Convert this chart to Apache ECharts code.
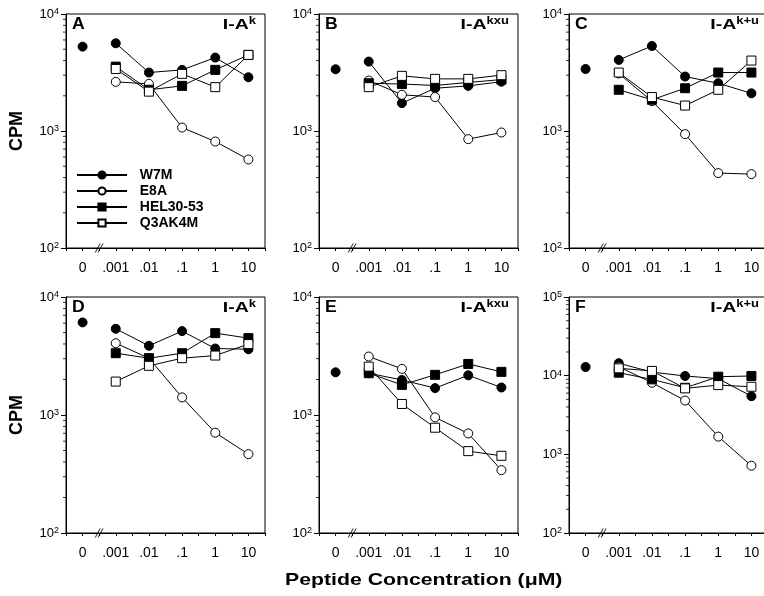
<!DOCTYPE html>
<html>
<head>
<meta charset="utf-8">
<script src="https://cdn.jsdelivr.net/npm/echarts@6/dist/echarts.min.js"></script>
<style>
  html, body { margin: 0; padding: 0; background: #fff; }
  #chart { width: 764px; height: 596px; }
</style>
</head>
<body>
<div id="chart"></div>
<script>
  // x categories (0 is the no-peptide control, then µM)
  var concLabels = ['0', '.001', '.01', '.1', '1', '10'];
  var seriesNames = ['W7M', 'E8A', 'HEL30-53', 'Q3AK4M'];
  var panelLetters = ['A', 'B', 'C', 'D', 'E', 'F'];
  var allotypes = ['k', 'kxu', 'k+u', 'k', 'kxu', 'k+u'];
  var yMaxes = [1e4, 1e4, 1e4, 1e4, 1e4, 1e5];

  // CPM per panel (A..F), concentrations .001 .. 10
  var w7mZero = [5260, 3370, 3390, 6090, 2300, 12900];
  var w7m = [
    [5620, 3160, 3330, 4240, 2880],
    [3920, 1730, 2320, 2430, 2640],
    [4050, 5330, 2920, 2560, 2100],
    [5380, 3860, 5140, 3660, 3610],
    [2260, 1980, 1690, 2170, 1710],
    [14400, 11100, 9910, 9160, 5480]
  ];
  var e8a = [
    [2630, 2530, 1070, 813, 571],
    [2700, 2040, 1950, 852, 971],
    [3100, 1800, 940, 437, 428],
    [4060, 3030, 1410, 708, 466],
    [3130, 2460, 955, 698, 341],
    [13000, 8130, 4830, 1680, 716]
  ];
  var hel = [
    [3550, 2250, 2430, 3330, 4470],
    [2560, 2520, 2450, 2600, 2750],
    [2250, 1850, 2320, 3160, 3160],
    [3340, 3030, 3340, 4940, 4480],
    [2260, 1800, 2190, 2710, 2320],
    [10900, 8970, 7010, 9700, 9910]
  ];
  var q3ak4m = [
    [3390, 2170, 3080, 2370, 4470],
    [2370, 2960, 2790, 2790, 3000],
    [3160, 1950, 1650, 2250, 4000],
    [1920, 2610, 3030, 3190, 3990],
    [2570, 1240, 780, 494, 451],
    [12400, 11500, 6890, 7590, 7230]
  ];

  var FONT = 'Liberation Sans';
  var colLeft = [66, 319, 569];
  var colWidth = [199, 199, 199];
  var rowTop = [14, 297];
  var rowHeight = [234, 236];

  function lineSeries(i, name, values, filled, symbol, zeroVal) {
    var data = [];
    if (zeroVal != null) {
      data.push([0, zeroVal]);
      data.push([0.5, '-']);   // control point is not joined to the curve
    }
    values.forEach(function (v, k) { data.push([k + 1, v]); });
    return {
      name: name, type: 'line', xAxisIndex: i, yAxisIndex: i, data: data,
      symbol: symbol, symbolSize: 9, showSymbol: true, connectNulls: false,
      lineStyle: { color: '#000', width: 1 },
      itemStyle: { color: filled ? '#000' : '#fff', borderColor: '#000', borderWidth: 1 },
      emphasis: { disabled: true }, z: 3
    };
  }

  function buildOption() {
    var grids = [], xAxes = [], yAxes = [], series = [], graphics = [];
    for (var i = 0; i < 6; i++) {
      var r = Math.floor(i / 3), c = i % 3;
      var gl = colLeft[c], gt = rowTop[r], gw = colWidth[c], gh = rowHeight[r];
      grids.push({
        left: gl, top: gt, width: gw, height: gh,
        show: true, borderColor: '#000', borderWidth: 1, outerBoundsMode: 'none'
      });
      xAxes.push({
        gridIndex: i, type: 'value', min: -0.5, max: 5.5, interval: 0.5,
        axisLine: { show: true, onZero: false, lineStyle: { color: '#000', width: 1 } },
        axisTick: { show: true, length: 3, lineStyle: { color: '#000' } },
        axisLabel: {
          color: '#000', fontSize: 14, fontFamily: FONT, margin: 13,
          formatter: function (val) {
            var k = Math.round(val);
            return Math.abs(val - k) < 1e-6 && k >= 0 ? concLabels[k] : '';
          }
        },
        splitLine: { show: false }
      });
      var ya = {
        gridIndex: i, type: 'log', logBase: 10, min: 100, max: yMaxes[i],
        axisLine: { show: true, onZero: false, lineStyle: { color: '#000', width: 1 } },
        axisTick: { show: true, length: 5, lineStyle: { color: '#000' } },
        axisLabel: {
          color: '#000', fontFamily: FONT, margin: 7,
          formatter: function (val) { return '{b|10}{s|' + Math.round(Math.log10(val)) + '}'; },
          rich: {
            b: { fontSize: 13, lineHeight: 14, fontFamily: FONT, color: '#000' },
            s: { fontSize: 9, lineHeight: 9, verticalAlign: 'top', fontFamily: FONT, color: '#000' }
          }
        },
        splitLine: { show: false }
      };
      if (c == 0) {
        ya.name = 'CPM'; ya.nameLocation = 'middle'; ya.nameGap = 40;
        ya.nameTextStyle = { fontSize: 18, fontWeight: 'bold', fontFamily: FONT, color: '#000' };
      }
      yAxes.push(ya);

      series.push(lineSeries(i, 'W7M', w7m[i], true, 'circle', w7mZero[i]));
      series.push(lineSeries(i, 'E8A', e8a[i], false, 'circle', null));
      series.push(lineSeries(i, 'HEL30-53', hel[i], true, 'rect', null));
      series.push(lineSeries(i, 'Q3AK4M', q3ak4m[i], false, 'rect', null));

      // log minor ticks (2..9 of each decade) along the y axis
      var minor = [];
      for (var d = 100; d < yMaxes[i]; d *= 10) {
        for (var m = 2; m <= 9; m++) minor.push([-0.5, m * d]);
      }
      series.push({
        type: 'scatter', xAxisIndex: i, yAxisIndex: i, data: minor,
        symbol: 'rect', symbolSize: [3, 1], symbolOffset: [-1.5, 0],
        itemStyle: { color: '#000' }, silent: true, clip: false, z: 5
      });
      // break mark between 0 and .001
      series.push({
        type: 'scatter', xAxisIndex: i, yAxisIndex: i, data: [[0.5, 100]],
        symbol: 'path://M0,10 L7,0 L8.6,0 L1.6,10 Z M4,10 L11,0 L12.6,0 L5.6,10 Z',
        symbolSize: [9, 9], itemStyle: { color: '#000' }, silent: true, clip: false, z: 6
      });

      graphics.push({
        type: 'text', x: gl + 6, y: gt + 3, scaleX: 1.1,
        style: { text: panelLetters[i], fontSize: 16, fontWeight: 'bold', fontFamily: FONT, fill: '#000' }
      });
      graphics.push({
        type: 'text', x: gl + gw - 9, y: gt + 2, scaleX: 1.3,
        style: {
          text: '{m|I-A}{s|' + allotypes[i] + '}', align: 'right',
          rich: {
            m: { fontSize: 15, fontWeight: 'bold', lineHeight: 17, fontFamily: FONT, fill: '#000' },
            s: { fontSize: 10, fontWeight: 'bold', lineHeight: 10, verticalAlign: 'top', fontFamily: FONT, fill: '#000' }
          }
        }
      });
    }
    graphics.push({
      type: 'text', x: 285, y: 572, scaleX: 1.25,
      style: { text: 'Peptide Concentration (\u03bcM)', fontSize: 17, fontWeight: 'bold', fontFamily: FONT, fill: '#000' }
    });

    return {
      animation: false,
      backgroundColor: '#fff',
      legend: {
        data: seriesNames, orient: 'vertical', left: 76, top: 168,
        itemWidth: 50, itemHeight: 9, itemGap: 2, padding: 0, selectedMode: false,
        formatter: function (name) { return '  ' + name; },
        textStyle: { fontSize: 14, lineHeight: 11, fontWeight: 'bold', fontFamily: FONT, color: '#000' }
      },
      grid: grids,
      xAxis: xAxes,
      yAxis: yAxes,
      series: series,
      graphic: graphics
    };
  }

  var chart = echarts.init(document.getElementById('chart'));
  chart.setOption(buildOption());
</script>
</body>
</html>
